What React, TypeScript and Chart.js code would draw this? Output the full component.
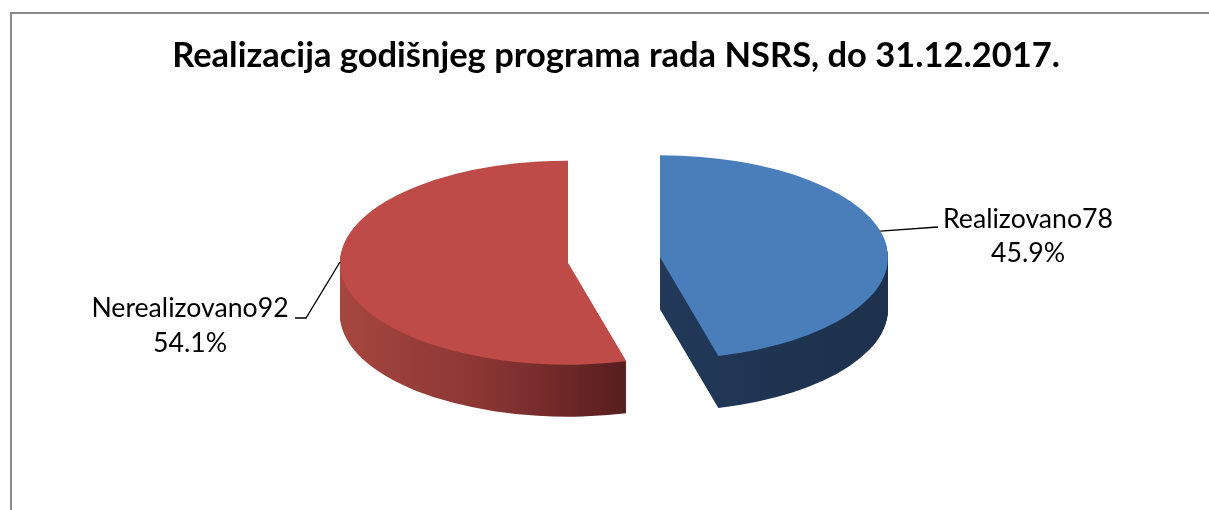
import React, { useEffect, useRef } from "react";
import { Chart, registerables } from "chart.js";

Chart.register(...registerables);

// ---- data ----
const categories = ["Realizovano", "Nerealizovano"];
const values = [78, 92];
const titleText = "Realizacija godišnjeg programa rada NSRS, do 31.12.2017.";

// ---- styles ----
const topColors = ["#4A7EBB", "#BE4B48"];
const sideStops: string[][] = [
  ["#22395A", "#1F3451", "#1D314C"],
  ["#A6463F", "#8A3634", "#561E1E"],
];
const W = 1209;
const H = 510;
const RADIUS = 228;
const TILT = 102 / 228;
const DEPTH = 52;
const EXPLODE = 46.4;
const FONT = "Lato, 'Open Sans', sans-serif";

function fitSize(ctx: CanvasRenderingContext2D, text: string, weight: string, target: number) {
  ctx.font = `${weight} 100px ${FONT}`;
  const w = ctx.measureText(text).width;
  return (100 * target) / w;
}

const pie3d = {
  id: "pie3d",
  beforeDraw(chart: any) {
    const ctx: CanvasRenderingContext2D = chart.ctx;
    ctx.save();
    ctx.fillStyle = "#ffffff";
    ctx.fillRect(0, 0, chart.width, chart.height);
    ctx.strokeStyle = "#8a8a8a";
    ctx.lineWidth = 2;
    ctx.beginPath();
    ctx.moveTo(11, chart.height + 5);
    ctx.lineTo(11, 13);
    ctx.lineTo(chart.width + 5, 13);
    ctx.stroke();
    ctx.restore();
  },
  beforeDatasetsDraw(chart: any) {
    const ctx: CanvasRenderingContext2D = chart.ctx;
    const arcs: any[] = chart.getDatasetMeta(0).data;
    const place = (arc: any, dy: number) => {
      const mid = (arc.startAngle + arc.endAngle) / 2;
      ctx.translate(0, dy);
      ctx.translate(0, arc.y);
      ctx.scale(1, TILT);
      ctx.translate(0, -arc.y);
      ctx.translate(Math.cos(mid) * EXPLODE, Math.sin(mid) * EXPLODE);
    };
    // side walls
    arcs.forEach((arc, i) => {
      let xmin = arc.x, xmax = arc.x;
      for (let t = 0; t <= 60; t++) {
        const a = arc.startAngle + ((arc.endAngle - arc.startAngle) * t) / 60;
        const x = arc.x + Math.cos(a) * arc.outerRadius;
        xmin = Math.min(xmin, x);
        xmax = Math.max(xmax, x);
      }
      const grad = ctx.createLinearGradient(xmin, 0, xmax, 0);
      const st = sideStops[i];
      st.forEach((c, j) => grad.addColorStop(j / (st.length - 1), c));
      const orig = arc.options;
      arc.options = { ...orig, backgroundColor: grad, borderWidth: 0 };
      for (let s = DEPTH; s >= 1; s--) {
        ctx.save();
        place(arc, s);
        arc.draw(ctx);
        ctx.restore();
      }
      arc.options = orig;
    });
    // top faces
    arcs.forEach((arc) => {
      ctx.save();
      place(arc, 0);
      arc.draw(ctx);
      ctx.restore();
    });
    return false;
  },
  afterDraw(chart: any) {
    const ctx: CanvasRenderingContext2D = chart.ctx;
    const arcs: any[] = chart.getDatasetMeta(0).data;
    const total = values.reduce((a, b) => a + b, 0);
    const anchor = (arc: any, frac: number) => {
      const mid = (arc.startAngle + arc.endAngle) / 2;
      const a = arc.startAngle + (arc.endAngle - arc.startAngle) * frac;
      const x = arc.x + Math.cos(mid) * EXPLODE + Math.cos(a) * arc.outerRadius;
      const y = arc.y + TILT * (Math.sin(mid) * EXPLODE + Math.sin(a) * arc.outerRadius);
      return [x, y];
    };
    ctx.save();
    // title
    const ts = fitSize(ctx, titleText, "bold", 888);
    ctx.font = `bold ${ts}px ${FONT}`;
    ctx.fillStyle = "#000";
    ctx.textAlign = "center";
    ctx.textBaseline = "alphabetic";
    ctx.fillText(titleText, 616, 67);

    const l0 = categories[0] + values[0];
    const l1 = categories[1] + values[1];
    const p0 = ((values[0] / total) * 100).toFixed(1) + "%";
    const p1 = ((values[1] / total) * 100).toFixed(1) + "%";
    const ls = fitSize(ctx, l0, "normal", 170);
    ctx.font = `normal ${ls}px ${FONT}`;
    ctx.fillText(l0, 1028, 228);
    ctx.fillText(p0, 1028, 262);
    ctx.fillText(l1, 190, 317);
    ctx.fillText(p1, 190, 352);

    // leader lines
    ctx.strokeStyle = "#000";
    ctx.lineWidth = 1.3;
    const [ax, ay] = anchor(arcs[0], 0.455);
    ctx.beginPath();
    ctx.moveTo(ax, ay);
    ctx.lineTo(938, 227);
    ctx.stroke();
    const [bx, by] = anchor(arcs[1], 0.54);
    ctx.beginPath();
    ctx.moveTo(295, 318);
    ctx.lineTo(306, 318);
    ctx.lineTo(bx, by);
    ctx.stroke();
    ctx.restore();
  },
};

export default function App() {
  const ref = useRef<HTMLCanvasElement>(null);
  useEffect(() => {
    if (!ref.current) return;
    const chart = new Chart(ref.current, {
      type: "pie",
      data: {
        labels: categories,
        datasets: [
          {
            data: values,
            backgroundColor: topColors,
            borderWidth: 0,
          },
        ],
      },
      options: {
        responsive: false,
        animation: false,
        radius: RADIUS,
        events: [],
        layout: { padding: { left: 19, right: 0, top: 10, bottom: 0 } },
        plugins: {
          legend: { display: false },
          tooltip: { enabled: false },
          title: { display: false },
        },
      } as any,
      plugins: [pie3d as any],
    });
    return () => chart.destroy();
  }, []);
  return (
    <div
      style={{
        position: "fixed",
        left: 0,
        top: 0,
        width: W,
        height: H,
        overflow: "hidden",
        background: "#fff",
      }}
    >
      <canvas ref={ref} width={W} height={H} style={{ display: "block" }} />
    </div>
  );
}
